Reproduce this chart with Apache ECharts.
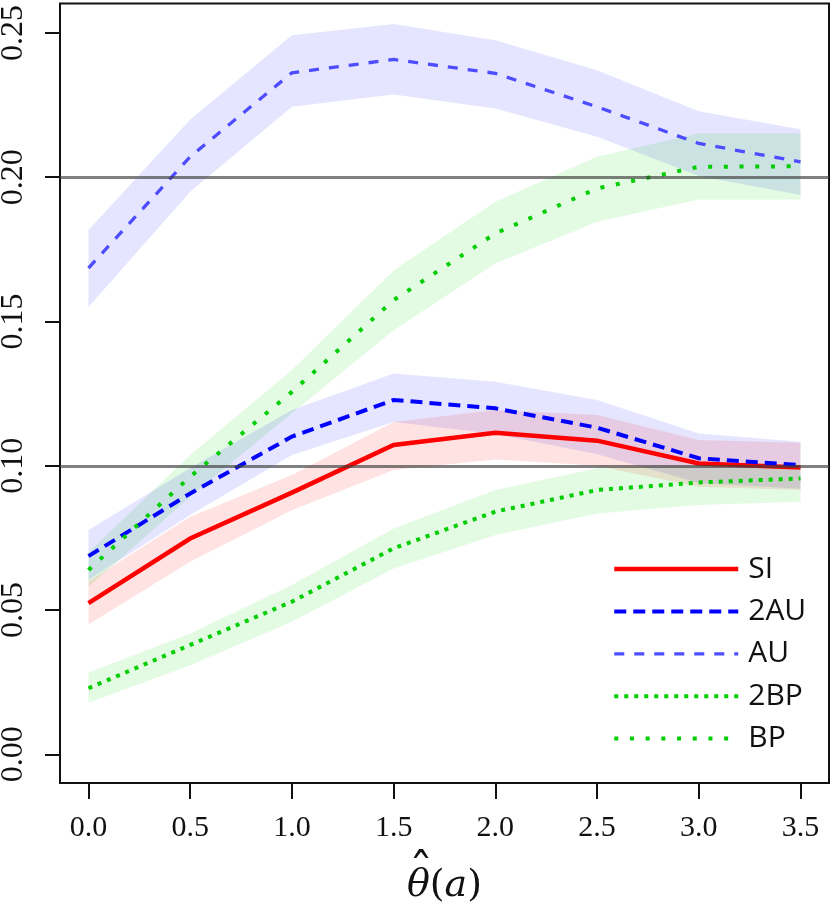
<!DOCTYPE html>
<html>
<head>
<meta charset="utf-8">
<script src="https://cdn.jsdelivr.net/npm/echarts@6/dist/echarts.min.js"></script>
<style>html,body{margin:0;padding:0;background:#fff}#c{width:831px;height:906px}</style>
</head>
<body>
<div id="c"></div>
<script>
// ---- data ----
const xVals = [0.0, 0.5, 1.0, 1.5, 2.0, 2.5, 3.0, 3.5];
const xTicks = [0.0, 0.5, 1.0, 1.5, 2.0, 2.5, 3.0, 3.5];
const yTicks = [0.00, 0.05, 0.10, 0.15, 0.20, 0.25];
const refLines = [0.10, 0.20];

const SI      = [0.0524, 0.0748, 0.0907, 0.1072, 0.1114, 0.1087, 0.1008, 0.0994];
const SI_lo   = [0.0450, 0.0667, 0.0846, 0.0985, 0.1022, 0.1000, 0.0927, 0.0916];
const SI_hi   = [0.0600, 0.0823, 0.0968, 0.1152, 0.1193, 0.1176, 0.1089, 0.1080];

const AU2     = [0.0687, 0.0904, 0.1101, 0.1228, 0.1199, 0.1132, 0.1026, 0.1002];
const AU2_lo  = [0.0604, 0.0829, 0.1037, 0.1152, 0.1110, 0.1040, 0.0940, 0.0920];
const AU2_hi  = [0.0777, 0.0992, 0.1193, 0.1320, 0.1291, 0.1228, 0.1112, 0.1083];

const AU      = [0.1685, 0.2071, 0.2362, 0.2408, 0.2360, 0.2244, 0.2117, 0.2053];
const AU_lo   = [0.1550, 0.1950, 0.2244, 0.2287, 0.2238, 0.2140, 0.2004, 0.1938];
const AU_hi   = [0.1817, 0.2200, 0.2492, 0.2531, 0.2475, 0.2371, 0.2229, 0.2166];

const BP2     = [0.0229, 0.0379, 0.0529, 0.0714, 0.0841, 0.0916, 0.0942, 0.0956];
const BP2_lo  = [0.0179, 0.0309, 0.0459, 0.0644, 0.0760, 0.0835, 0.0864, 0.0875];
const BP2_hi  = [0.0283, 0.0419, 0.0587, 0.0783, 0.0916, 0.0991, 0.1000, 0.1005];

const BP      = [0.0639, 0.0962, 0.1256, 0.1574, 0.1805, 0.1961, 0.2036, 0.2038];
const BP_lo   = [0.0580, 0.0893, 0.1182, 0.1470, 0.1701, 0.1846, 0.1923, 0.1923];
const BP_hi   = [0.0700, 0.1037, 0.1332, 0.1677, 0.1915, 0.2071, 0.2152, 0.2152];

// ---- build ----
const pairs = arr => xVals.map((x, i) => [x, arr[i]]);

function band(name, lo, hi, color) {
  return {
    type: 'custom', name: name + '_band', silent: true, z: 1,
    data: xVals.map((x, i) => [x, lo[i], hi[i]]),
    renderItem: function (params, api) {
      if (params.dataIndex !== 0) return null;
      const pts = [];
      for (let i = 0; i < xVals.length; i++) pts.push(api.coord([xVals[i], hi[i]]));
      for (let i = xVals.length - 1; i >= 0; i--) pts.push(api.coord([xVals[i], lo[i]]));
      return { type: 'polygon', shape: { points: pts }, style: { fill: color, stroke: null } };
    }
  };
}
function line(name, arr, color, width, dash) {
  return {
    type: 'line', name: name, data: pairs(arr), symbol: 'none', z: 3,
    lineStyle: { color: color, width: width, type: dash, cap: 'butt', join: 'miter' },
    itemStyle: { color: color }
  };
}

const cBlueBand = 'rgba(0,0,255,0.10)';
const cRedBand = 'rgba(255,0,0,0.11)';
const cGreenBand = 'rgba(0,205,0,0.11)';

const series = [
  band('AU', AU_lo, AU_hi, cBlueBand),
  band('BP', BP_lo, BP_hi, cGreenBand),
  band('2AU', AU2_lo, AU2_hi, cBlueBand),
  band('SI', SI_lo, SI_hi, cRedBand),
  band('2BP', BP2_lo, BP2_hi, cGreenBand),
  {
    type: 'line', name: 'ref', data: [], symbol: 'none', silent: true,
    markLine: {
      silent: true, symbol: 'none', label: { show: false },
      lineStyle: { color: 'rgba(60,60,60,0.65)', width: 3, type: 'solid' },
      data: refLines.map(v => ({ yAxis: v }))
    }
  },
  line('SI', SI, '#FF0000', 4.5, 'solid'),
  line('2AU', AU2, '#0000FF', 4, [12, 7]),
  line('AU', AU, '#4D4DFF', 3.3, [10, 10]),
  line('2BP', BP2, '#00CD00', 4, [4, 6]),
  line('BP', BP, '#00CD00', 4, [4, 11.7])
];

const chart = echarts.init(document.getElementById('c'), null, { renderer: 'canvas' });
chart.setOption({
  animation: false,
  backgroundColor: '#fff',
  grid: { left: 60, right: 2, top: 3.5, bottom: 123, outerBoundsMode: 'none', containLabel: false, show: true, borderColor: '#111', borderWidth: 2, backgroundColor: 'transparent' },
  xAxis: {
    type: 'value', min: -0.14, max: 3.64,
    axisLine: { show: false, onZero: false },
    splitLine: { show: false },
    axisTick: { show: true, length: 16, inside: false, customValues: xTicks, lineStyle: { color: '#111', width: 2 } },
    axisLabel: { customValues: xTicks, formatter: v => v.toFixed(1), margin: 30, fontFamily: 'Liberation Serif', fontSize: 30, color: '#111' },
    name: '{i|θ}{r|(}{i|a}{r|)}',
    nameLocation: 'middle', nameGap: 84,
    nameTextStyle: {
      rich: {
        i: { fontFamily: 'DejaVu Serif', fontStyle: 'italic', fontSize: 38, color: '#111' },
        r: { fontFamily: 'DejaVu Serif', fontSize: 38, color: '#111' }
      }
    }
  },
  yAxis: {
    type: 'value', min: -0.00994, max: 0.2602,
    axisLine: { show: false, onZero: false },
    splitLine: { show: false },
    axisTick: { show: true, length: 15, inside: false, customValues: yTicks, lineStyle: { color: '#111', width: 2 } },
    axisLabel: { customValues: yTicks, formatter: v => v.toFixed(2), rotate: 90, margin: 30, fontFamily: 'Liberation Serif', fontSize: 32, color: '#111' }
  },
  legend: {
    orient: 'vertical', left: 607, top: 549,
    data: ['SI', '2AU', 'AU', '2BP', 'BP'],
    itemWidth: 124, itemHeight: 14, itemGap: 12.4,
    itemStyle: { opacity: 0 },
    lineStyle: { width: 'inherit' },
    textStyle: { fontFamily: 'Open Sans', fontSize: 30, color: '#111', padding: [0, 0, 0, 5] },
    selectedMode: false
  },
  graphic: [
    { type: 'text', x: 421, y: 876, silent: true, z: 10,
      style: { text: 'ˆ', textAlign: 'center', textVerticalAlign: 'middle', fontFamily: 'DejaVu Serif', fontSize: 48, fill: '#111' } }
  ],
  series: series
});
</script>
</body>
</html>
